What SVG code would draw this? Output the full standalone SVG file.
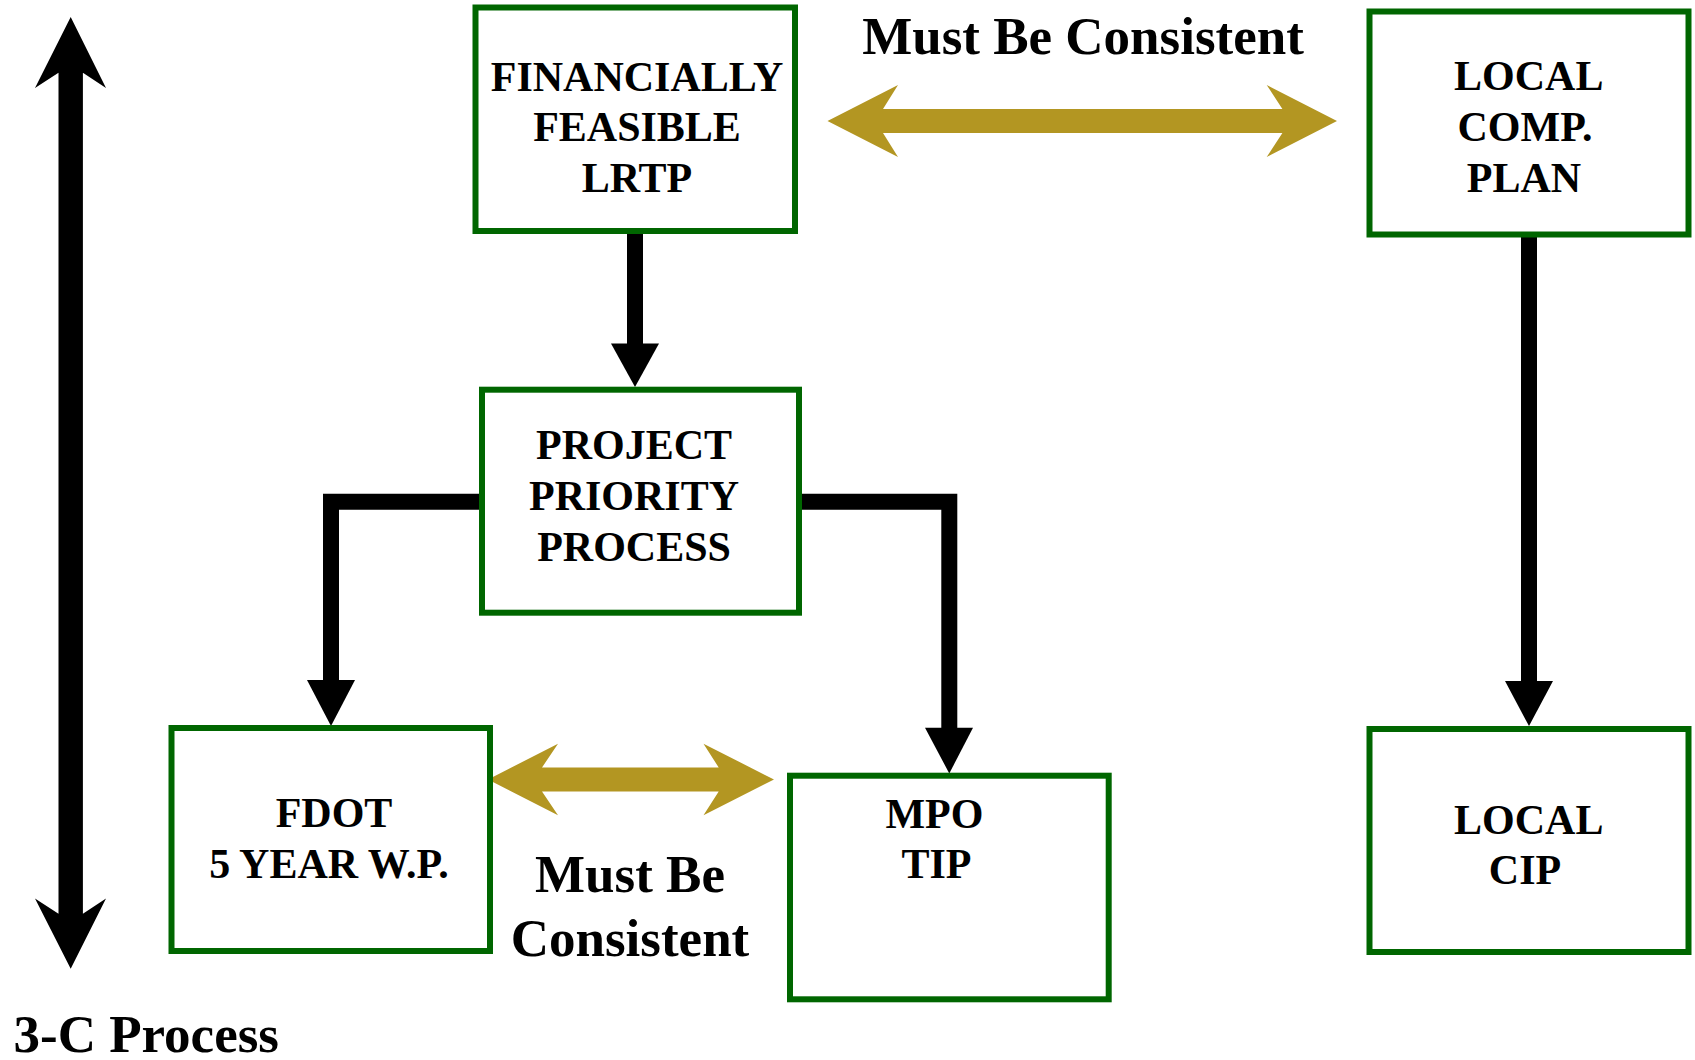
<svg xmlns="http://www.w3.org/2000/svg" width="1695" height="1060" viewBox="0 0 1695 1060">
  <style>
    .box { fill: #ffffff; stroke: #006600; stroke-width: 6; }
    .lbl { font-family: "Liberation Serif", "Times New Roman", serif; font-weight: bold; font-size: 42px; fill: #000000; text-anchor: middle; }
    .big { font-family: "Liberation Serif", "Times New Roman", serif; font-weight: bold; font-size: 53px; fill: #000000; }
    .wire { fill: none; stroke: #000000; stroke-width: 16; stroke-linejoin: miter; }
    .head { fill: #000000; }
    .gold { fill: #B39622; }
  </style>
  <rect x="0" y="0" width="1695" height="1060" fill="#ffffff"/>

  <g id="connectors">
    <path class="wire" d="M635,234 V345"/>
    <polygon class="head" points="611,343.5 659,343.5 635,387"/>
    <path class="wire" d="M482,501.7 H331 V681"/>
    <polygon class="head" points="307,680 355,680 331,726"/>
    <path class="wire" d="M799,501.7 H949.3 V729"/>
    <polygon class="head" points="925,727.8 973,727.8 949.3,773.4"/>
    <path class="wire" d="M1529,237 V682"/>
    <polygon class="head" points="1505,681 1553,681 1529,726"/>
    <polygon id="three-c-arrow" class="head" points="70.7,17 106,88 82.9,72.7 82.9,913.7 106,898.5 70.7,968.8 35,898.5 58.5,913.7 58.5,72.7 35,88"/>
    <polygon id="consistent-top" class="gold" points="827.5,121 898,85 883,109 1282.4,109 1266.7,85 1337,121 1266.7,157 1282.4,133 883,133 898,157"/>
    <polygon id="consistent-bottom" class="gold" points="488,779.5 558,743.7 542,767.5 718.7,767.5 703.5,743.7 774,779.5 703.5,815.3 718.7,791.5 542,791.5 558,815.3"/>
  </g>

  <g id="node-lrtp">
    <rect class="box" x="475.5" y="7.5" width="319.5" height="223.5"/>
    <text class="lbl" x="637" y="90.6">FINANCIALLY</text>
    <text class="lbl" x="637" y="141.3">FEASIBLE</text>
    <text class="lbl" x="637" y="192">LRTP</text>
  </g>

  <g id="node-local-comp-plan">
    <rect class="box" x="1369.5" y="11.5" width="319" height="223"/>
    <text class="lbl" x="1528.8" y="90">LOCAL</text>
    <text class="lbl" x="1525" y="141">COMP.</text>
    <text class="lbl" x="1524" y="192">PLAN</text>
  </g>

  <g id="node-project-priority">
    <rect class="box" x="482" y="389.7" width="317" height="223"/>
    <text class="lbl" x="634" y="459">PROJECT</text>
    <text class="lbl" x="634" y="510">PRIORITY</text>
    <text class="lbl" x="634" y="561">PROCESS</text>
  </g>

  <g id="node-fdot">
    <rect class="box" x="171.5" y="728" width="318.5" height="223"/>
    <text class="lbl" x="334" y="827">FDOT</text>
    <text class="lbl" x="329" y="877.5">5 YEAR W.P.</text>
  </g>

  <g id="node-mpo-tip">
    <rect class="box" x="790" y="775.7" width="318.7" height="223.6"/>
    <text class="lbl" x="934.4" y="827.5">MPO</text>
    <text class="lbl" x="936.4" y="878">TIP</text>
  </g>

  <g id="node-local-cip">
    <rect class="box" x="1369.5" y="729" width="319" height="223"/>
    <text class="lbl" x="1528.8" y="833.6">LOCAL</text>
    <text class="lbl" x="1525" y="884.3">CIP</text>
  </g>

  <g id="labels">
    <text class="big" x="1083" y="54" text-anchor="middle">Must Be Consistent</text>
    <text class="big" x="630" y="892" text-anchor="middle">Must Be</text>
    <text class="big" x="630" y="955.5" text-anchor="middle">Consistent</text>
    <text class="big" x="13.5" y="1052">3-C Process</text>
  </g>
</svg>
